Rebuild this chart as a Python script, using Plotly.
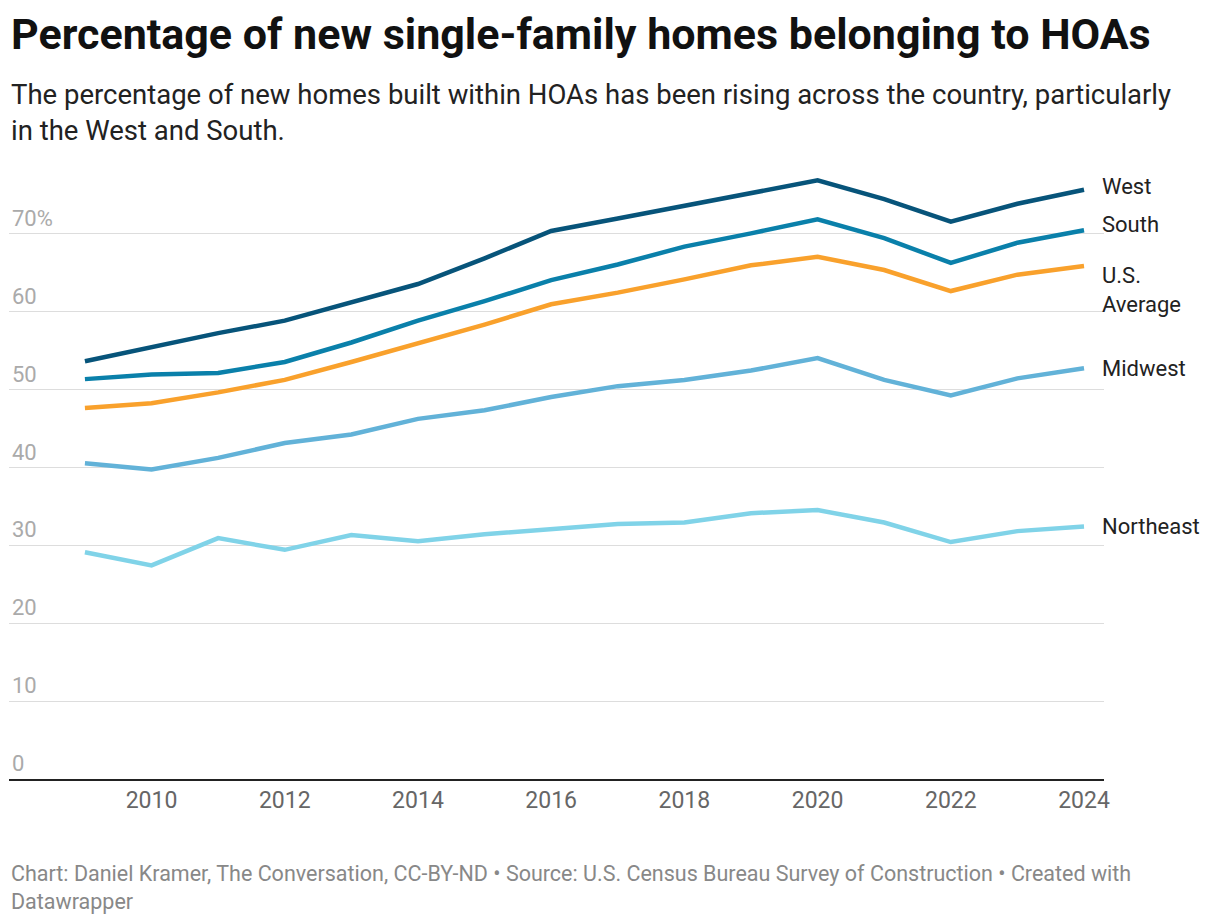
import plotly.graph_objects as go

years = list(range(2009, 2025))
west = [53.6, 55.4, 57.2, 58.8, 61.2, 63.5, 66.8, 70.3, 71.9, 73.5, 75.1, 76.8, 74.4, 71.5, 73.8, 75.6]
south = [51.3, 51.9, 52.1, 53.5, 56.0, 58.8, 61.3, 64.0, 66.0, 68.3, 70.0, 71.8, 69.4, 66.2, 68.8, 70.4]
us_avg = [47.6, 48.2, 49.6, 51.2, 53.5, 55.9, 58.3, 60.9, 62.4, 64.1, 65.9, 67.0, 65.3, 62.6, 64.7, 65.8]
midwest = [40.5, 39.7, 41.2, 43.1, 44.2, 46.2, 47.3, 49.0, 50.4, 51.2, 52.4, 54.0, 51.2, 49.2, 51.4, 52.7]
northeast = [29.1, 27.4, 30.9, 29.4, 31.3, 30.5, 31.4, 32.1, 32.7, 32.9, 34.1, 34.5, 32.9, 30.4, 31.8, 32.4]

series = [
    ("Northeast", northeast, "#80d3e8", 32.4),
    ("Midwest", midwest, "#62b2d8", 52.7),
    ("U.S.<br>Average", us_avg, "#f9a12c", 62.7),
    ("South", south, "#0a80aa", 71.2),
    ("West", west, "#07547a", 76.0),
]

yticks = [0, 10, 20, 30, 40, 50, 60, 70]
yticktext = ["0", "10", "20", "30", "40", "50", "60", "70%"]

fig = go.Figure()
for name, vals, color, ylab in series:
    fig.add_trace(go.Scatter(x=years, y=vals, mode="lines", name=name,
                             line=dict(color=color, width=4.5), hoverinfo="skip"))
    fig.add_annotation(x=2024, y=ylab, text=name, xref="x", yref="y", showarrow=False,
                       xanchor="left", xshift=16, align="left",
                       font=dict(size=22, color="#222"))

fig.update_layout(
    width=1220, height=922,
    margin=dict(l=1, r=124, t=163, b=151),
    plot_bgcolor="white", paper_bgcolor="white",
    font=dict(family="Roboto", color="#222"),
    showlegend=False,
    xaxis=dict(range=[2007.86, 2024.3], tickvals=list(range(2010, 2025, 2)),
               showgrid=False, showline=True, linecolor="#222", linewidth=1.5,
               ticks="", tickfont=dict(size=23, color="#666"), zeroline=False),
    yaxis=dict(range=[0, 78], tickvals=yticks, ticktext=yticktext,
               ticklabelposition="inside top", showgrid=True, gridcolor="#ddd",
               tickfont=dict(size=22, color="#aaa"), zeroline=False, showline=False),
)

fig.add_annotation(text="<b>Percentage of new single-family homes belonging to HOAs</b>",
                   xref="paper", yref="paper", x=0, y=1.0, yanchor="bottom",
                   xanchor="left", yshift=110, showarrow=False,
                   font=dict(size=43, color="#111"))
fig.add_annotation(text="The percentage of new homes built within HOAs has been rising across the country, particularly<br>in the West and South.",
                   xref="paper", yref="paper", x=0, y=1.0, yanchor="bottom",
                   xanchor="left", yshift=22, showarrow=False, align="left",
                   font=dict(size=27.5, color="#222"))
fig.add_annotation(text="Chart: Daniel Kramer, The Conversation, CC-BY-ND • Source: U.S. Census Bureau Survey of Construction • Created with<br>Datawrapper",
                   xref="paper", yref="paper", x=0, y=0, yanchor="top",
                   xanchor="left", yshift=-80, showarrow=False, align="left",
                   font=dict(size=21.5, color="#888"))

fig.write_html("out.html")
